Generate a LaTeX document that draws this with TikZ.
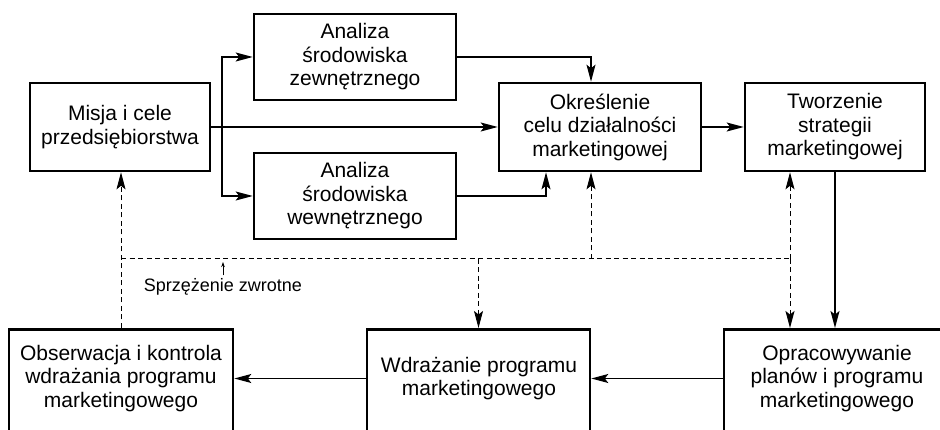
\documentclass[tikz,border=0pt]{standalone}
\usepackage{fontspec}
\setmainfont{Liberation Sans}
\usetikzlibrary{arrows.meta}
\begin{document}
\begin{tikzpicture}[x=1pt,y=-1pt,
  box/.style={draw, line width=2.6pt, align=center, inner sep=0pt, font=\fontsize{21}{23.5}\selectfont},
  txt/.style={align=center, inner sep=0pt, font=\fontsize{21}{23.5}\selectfont},
  tip/.style={-{Stealth[length=17pt,width=9pt,inset=3.5pt]}},
  conn/.style={line width=1.3pt, tip},
  fb/.style={line width=1pt, dash pattern=on 5pt off 3.5pt},
  fbarr/.style={fb, tip},
  small/.style={font=\fontsize{18}{20}\selectfont, inner sep=0pt}
]
\useasboundingbox (0,0) rectangle (940,430);
\clip (0,0) rectangle (940,430);

% top boxes
\node[box, minimum width=180, minimum height=88] (misja) at (120,127) {Misja i cele\\przedsiębiorstwa};
\node[box, minimum width=202, minimum height=86] (az) at (355,57) {Analiza\\środowiska\\zewnętrznego};
\node[box, minimum width=202, minimum height=86] (aw) at (355,196) {Analiza\\środowiska\\wewnętrznego};
\node[box, minimum width=202, minimum height=88] (okr) at (600,127) {Określenie\\celu działalności\\marketingowej};
\node[box, minimum width=180, minimum height=88] (tw) at (835,127) {Tworzenie\\strategii\\marketingowej};

% bottom boxes (cut off by the picture edge)
\node[box, minimum width=224, minimum height=130, anchor=north] (obs) at (121,328) {};
\node[txt] (obsT) at (121,378.5) {Obserwacja i kontrola\\wdrażania programu\\marketingowego};
\node[box, minimum width=223, minimum height=130, anchor=north] (wdr) at (478.5,328) {};
\node[txt] (wdrT) at (479,378.5) {Wdrażanie programu\\marketingowego};
\node[box, minimum width=226, minimum height=130, anchor=north] (opr) at (837,328) {};
\node[txt] (oprT) at (837,378.5) {Opracowywanie\\planów i programu\\marketingowego};

% solid connectors
\coordinate (br) at (222,127);
\draw[conn] (misja.east) -- (okr.west);
\draw[conn] (br) |- (az.west);
\draw[conn] (br) |- (aw.west);
\draw[conn] (az.east) -| ([xshift=-9pt]okr.north);
\draw[conn] (aw.east) -| ([xshift=-54pt]okr.south);
\draw[conn] (okr.east) -- (tw.west);
\draw[conn] (tw.south) -- (tw.south |- opr.north);
\draw[conn] (oprT -| opr.west) -- (oprT -| wdr.east);
\draw[conn] (wdrT -| wdr.west) -- (wdrT -| obs.east);

% feedback (dashed)
\coordinate (fbL) at (121,259);
\coordinate (fbO) at (591,259);
\coordinate (fbR) at (790,259);
\draw[fb] (fbL) -- (fbR);
\draw[fbarr] (obs.north) -- (obs.north |- misja.south);
\draw[fbarr] (fbO) -- (fbO |- okr.south);
\draw[fbarr] (wdr.north |- fbL) -- (wdr.north);
\draw[fbarr] (fbR) -- (fbR |- tw.south);
\draw[fbarr] (fbR) -- (fbR |- opr.north);

\node[small] (lbl) at (223,287) {Sprzężenie zwrotne};
\draw[line width=0.8pt, -{Stealth[length=5pt,width=3.5pt]}] ([yshift=3pt]lbl.north) -- ([yshift=-3pt]lbl.north |- fbL);
\end{tikzpicture}
\end{document}
